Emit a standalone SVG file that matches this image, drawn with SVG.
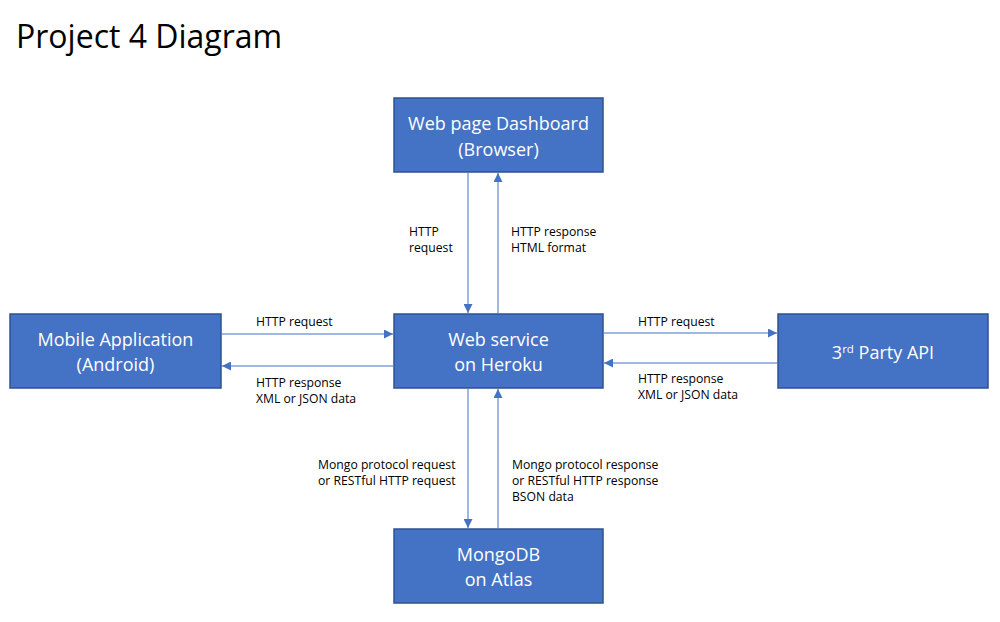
<svg xmlns="http://www.w3.org/2000/svg" width="1000" height="622" viewBox="0 0 1000 622">
<defs>
<style>
.box{fill:#4472C4;stroke:#2F528F;stroke-width:1.5}
.bt{font-family:"Open Sans","Noto Sans",sans-serif;font-size:18px;fill:#fff;text-anchor:middle}
.lb{font-family:"Open Sans","Noto Sans",sans-serif;font-size:12.2px;fill:#000}
.ln{stroke:#7FA1D8;stroke-width:1.5;fill:none;marker-end:url(#ah)}
</style>
<marker id="ah" viewBox="0 0 10 10" refX="10" refY="5" markerWidth="9" markerHeight="9" markerUnits="userSpaceOnUse" orient="auto">
<path d="M0,0 L10,5 L0,10 z" fill="#4472C4"/>
</marker>
</defs>
<rect width="1000" height="622" fill="#fff"/>
<text x="16" y="48" font-family="'Open Sans','Noto Sans',sans-serif" font-size="32" fill="#000">Project 4 Diagram</text>

<g id="connectors">
<line class="ln" x1="468" y1="173" x2="468" y2="313"/>
<line class="ln" x1="498" y1="313" x2="498" y2="173"/>
<line class="ln" x1="222" y1="334" x2="393" y2="334"/>
<line class="ln" x1="393" y1="366" x2="222" y2="366"/>
<line class="ln" x1="604" y1="333" x2="777" y2="333"/>
<line class="ln" x1="777" y1="363" x2="604" y2="363"/>
<line class="ln" x1="468" y1="389" x2="468" y2="528"/>
<line class="ln" x1="498" y1="528" x2="498" y2="389"/>
<text class="lb" x="409" y="236">HTTP</text>
<text class="lb" x="409" y="252">request</text>
<text class="lb" x="511" y="236">HTTP response</text>
<text class="lb" x="511" y="252">HTML format</text>
<text class="lb" x="256" y="326">HTTP request</text>
<text class="lb" x="256" y="387">HTTP response</text>
<text class="lb" x="256" y="403">XML or JSON data</text>
<text class="lb" x="638" y="326">HTTP request</text>
<text class="lb" x="638" y="383">HTTP response</text>
<text class="lb" x="638" y="399">XML or JSON data</text>
<text class="lb" x="318" y="469">Mongo protocol request</text>
<text class="lb" x="318" y="485">or RESTful HTTP request</text>
<text class="lb" x="512" y="469">Mongo protocol response</text>
<text class="lb" x="512" y="485">or RESTful HTTP response</text>
<text class="lb" x="512" y="501">BSON data</text>
</g>

<g id="dashboard">
<rect class="box" x="394" y="98" width="209" height="74"/>
<text class="bt" x="498.5" y="130">Web page Dashboard</text>
<text class="bt" x="498.5" y="156">(Browser)</text>
</g>
<g id="mobile">
<rect class="box" x="10" y="314" width="211" height="74"/>
<text class="bt" x="115.5" y="346">Mobile Application</text>
<text class="bt" x="115.5" y="371">(Android)</text>
</g>
<g id="webservice">
<rect class="box" x="394" y="314" width="209" height="74"/>
<text class="bt" x="498.5" y="346">Web service</text>
<text class="bt" x="498.5" y="371">on Heroku</text>
</g>
<g id="thirdparty">
<rect class="box" x="778" y="314" width="210" height="74"/>
<text class="bt" x="883" y="359">3<tspan font-size="11.5" dy="-6">rd</tspan><tspan dy="6"> Party API</tspan></text>
</g>
<g id="mongodb">
<rect class="box" x="394" y="529" width="209" height="74"/>
<text class="bt" x="498.5" y="561">MongoDB</text>
<text class="bt" x="498.5" y="586">on Atlas</text>
</g>
</svg>
